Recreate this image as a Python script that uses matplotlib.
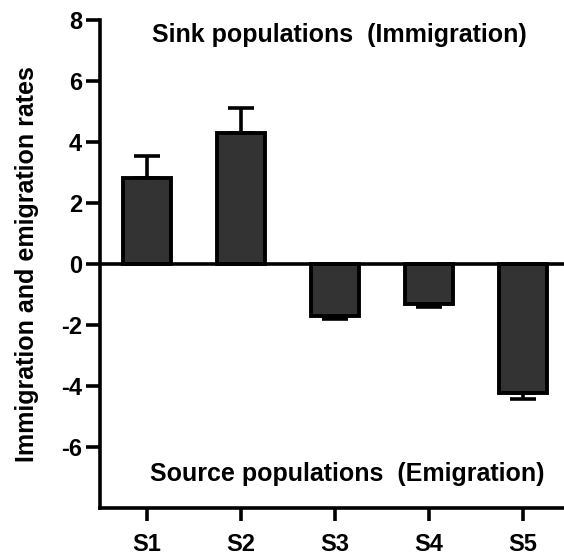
import numpy as np
import matplotlib.pyplot as plt

plt.rcParams['font.family'] = ['Liberation Sans', 'DejaVu Sans']
plt.rcParams['font.weight'] = 'bold'
plt.rcParams['axes.unicode_minus'] = False

sites = ['S1', 'S2', 'S3', 'S4', 'S5']
rates = [2.83, 4.31, -1.71, -1.32, -4.24]
sem = [0.72, 0.82, 0.09, 0.09, 0.20]

x = np.arange(len(sites))
# one-sided error bars: up for positive bars, down for negative ones
lower = [0 if r > 0 else e for r, e in zip(rates, sem)]
upper = [e if r > 0 else 0 for r, e in zip(rates, sem)]

fig = plt.figure(figsize=(5.64, 5.59), dpi=100)
ax = fig.add_axes([0.1773, 0.0912, 0.8227, 0.873])

ax.errorbar(x, rates, yerr=[lower, upper], fmt='none', ecolor='black',
            elinewidth=2.6, capsize=9.5, capthick=2.6, zorder=1)
ax.bar(x, rates, width=0.52, color='#333333', edgecolor='black',
       linewidth=2.8, zorder=2)
ax.axhline(0, color='black', linewidth=2.6, zorder=3)

ax.set_xlim(-0.5, 4.436)
ax.set_ylim(-8, 8)
ax.set_yticks([-6, -4, -2, 0, 2, 4, 6, 8])
ax.set_xticks(x)
ax.set_xticklabels(sites)

ax.spines['top'].set_visible(False)
ax.spines['right'].set_visible(False)
ax.spines['left'].set_linewidth(2.6)
ax.spines['bottom'].set_linewidth(2.6)
ax.tick_params(axis='y', width=2.6, length=10, labelsize=17, pad=3)
ax.tick_params(axis='x', width=2.6, length=9, labelsize=17, pad=9)

ax.set_ylabel('Immigration and emigration rates', fontsize=18,
              fontweight='bold', labelpad=16)

ax.text(0.05, 7.5, 'Sink populations  (Immigration)', fontsize=18,
        fontweight='bold', va='center', ha='left')
ax.text(0.03, -6.87, 'Source populations  (Emigration)', fontsize=18,
        fontweight='bold', va='center', ha='left')

fig.savefig('out.png', dpi=100)
